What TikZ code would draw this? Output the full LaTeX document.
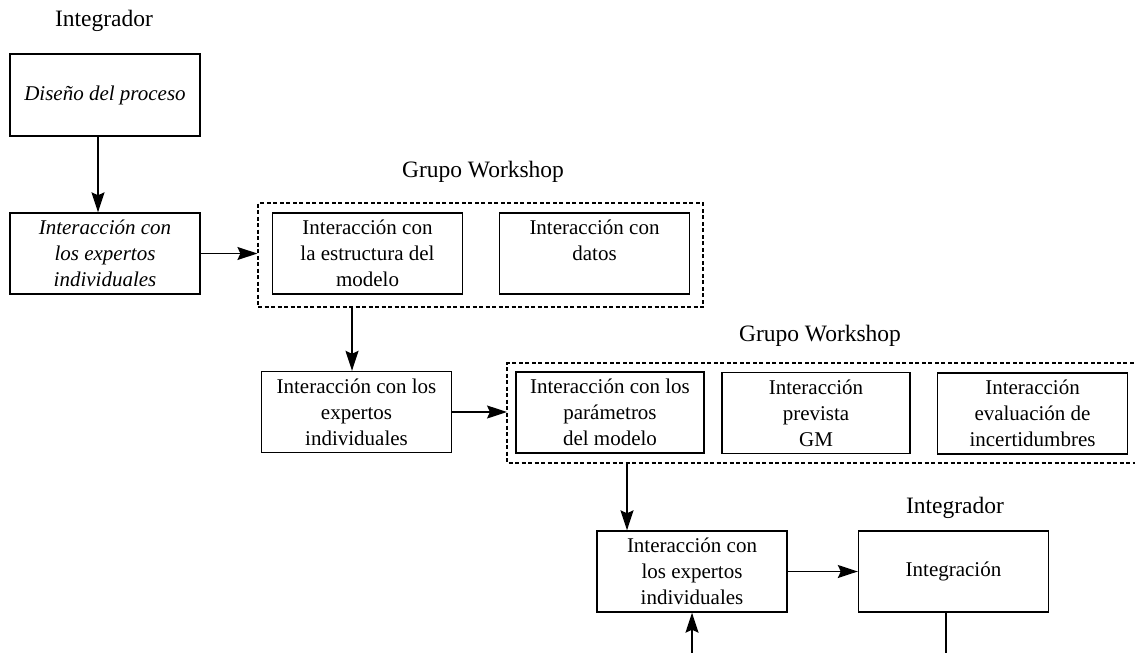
\documentclass[tikz,border=0pt]{standalone}
\usepackage{fontspec}
\setmainfont{Liberation Serif}
\usetikzlibrary{arrows.meta}
\begin{document}
\begin{tikzpicture}[x=1pt,y=-1pt,
  box/.style={draw,line width=1.4pt,minimum width=190pt,minimum height=81pt,
    inner sep=0pt,align=center,font=\fontsize{21}{26}\selectfont},
  ibox/.style={box,font=\fontsize{21}{26}\selectfont\itshape},
  group/.style={draw,line width=1.2pt,dash pattern=on 4pt off 2.5pt},
  title/.style={font=\fontsize{23.5}{28}\selectfont},
  arr/.style={line width=1.3pt,-{Stealth[length=20pt,width=13pt,inset=3pt]}},
  plain/.style={line width=1.3pt}]
\useasboundingbox (0,0) rectangle (1135,653);

% first stage: process design and individual interaction
\node[title] (t1) at (104,21) {Integrador};
\node[ibox,minimum height=82pt] (b1) at (105,95) {Diseño del proceso};
\node[ibox] (b2) at (105,253.5) {Interacción con\\los expertos\\individuales};

% first workshop group
\node[title] (t2) at (483,172) {Grupo Workshop};
\node[group,minimum width=445pt,minimum height=104pt,inner sep=0pt] (d1) at (480.5,255) {};
\node[box] (s1) at (367.5,253.5) {Interacción con\\la estructura del\\modelo};
\node[box] (s2) at (594.5,253.5) {Interacción con\\datos\\\mbox{}};

\node[box] (m1) at (356.5,412) {Interacción con los\\expertos\\individuales};

% second workshop group, open towards the right margin
\node[title] (t3) at (820,336) {Grupo Workshop};
\coordinate (d2ne) at (1140,363);
\coordinate (d2nw) at (507,363);
\coordinate (d2sw) at (507,463);
\coordinate (d2se) at (1140,463);
\coordinate (d2w) at (507,413);
\coordinate (d2s) at (627,463);
\begin{scope}
  \clip (0,0) rectangle (1135,653);
  \draw[group] (d2ne) -- (d2nw) -- (d2sw) -- (d2se);
\end{scope}
\node[box,minimum width=188pt] (p1) at (610,412.5) {Interacción con los\\parámetros\\del modelo};
\node[box,minimum width=188pt] (p2) at (816,413) {Interacción\\prevista\\GM};
\node[box] (p3) at (1032.5,413.5) {Interacción\\evaluación de\\incertidumbres};

% final stage
\node[box] (e) at (692,571.5) {Interacción con\\los expertos\\individuales};
\node[title] (t4) at (955,508) {Integrador};
\node[box] (ig) at (953.5,571.5) {Integración};
\coordinate (botl) at (692,653);
\coordinate (botr) at (946,653);

% connectors
\draw[arr] ([xshift=-7pt]b1.south) -- ([xshift=-7pt]b2.north);
\draw[arr] (b2.east) -- (b2.east -| d1.west);
\draw[arr] ([xshift=-4.5pt]d1.south -| m1.north) -- ([xshift=-4.5pt]m1.north);
\draw[arr] (m1.east) -- (m1.east -| d2w);
\draw[arr] (d2s) -- (d2s |- e.north);
\draw[arr] (e.east) -- (ig.west);
\draw[arr] (botl) -- (e.south);
\draw[plain] (botr |- ig.south) -- (botr);
\end{tikzpicture}
\end{document}
